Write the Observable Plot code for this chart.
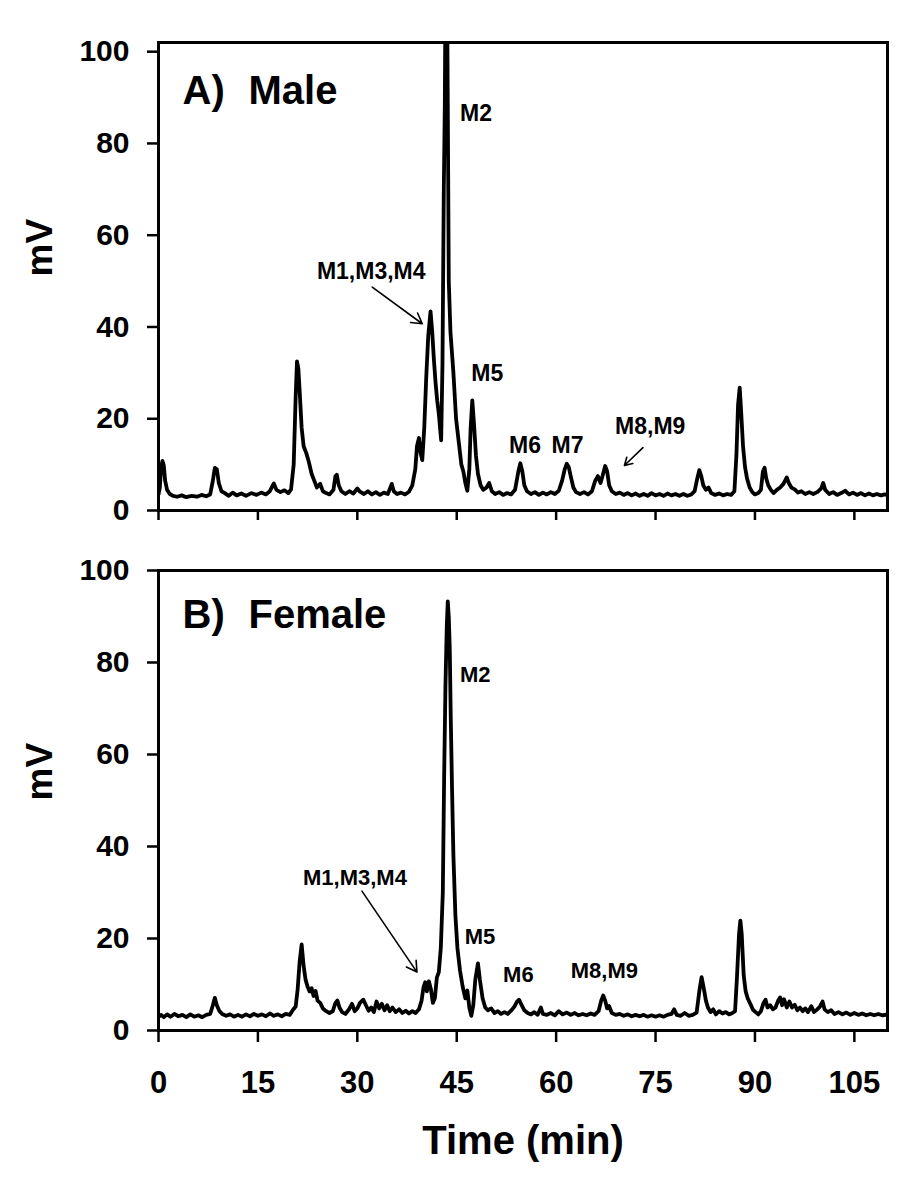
<!DOCTYPE html>
<html>
<head>
<meta charset="utf-8">
<script src="https://cdn.jsdelivr.net/npm/d3@7"></script>
<script src="https://cdn.jsdelivr.net/npm/@observablehq/plot@0.6"></script>
<style>
  html, body { margin: 0; padding: 0; background: #fff; }
  #chart { width: 918px; height: 1179px; position: relative; background: #fff; }
  #chart svg { display: block; }
</style>
</head>
<body>
<div id="chart"></div>
<script>
// ---------- DATA ----------
const xTicks = [0, 15, 30, 45, 60, 75, 90, 105];
const yTicks = [0, 20, 40, 60, 80, 100];
const panelLetters = ["A)", "B)"];
const panelNames = ["Male", "Female"];
const xTitle = "Time (min)";
const yTitle = "mV";

// Panel A: Male chromatogram (time in min, signal in mV)
const maleTime = [0,0.2,0.4,0.6,0.8,1.0,1.3,1.7,2.2,2.8,3.5,4.2,5.0,5.8,6.5,7.2,7.8,8.2,8.5,8.8,9.1,9.5,10.0,10.6,11.2,11.8,12.5,13.2,14.0,14.8,15.5,16.2,16.8,17.4,17.8,18.4,19.0,19.6,20.0,20.4,20.7,20.9,21.1,21.3,21.6,21.9,22.3,22.7,23.1,23.5,23.9,24.4,24.8,25.3,25.8,26.4,26.7,26.9,27.2,27.6,28.2,28.8,29.4,30.0,30.4,31.0,31.6,32.2,32.8,33.4,34.0,34.6,35.2,35.5,36.0,36.6,37.2,37.8,38.3,38.75,39.0,39.3,39.55,39.8,40.1,40.4,40.7,41.05,41.3,41.55,41.8,42.05,42.3,42.65,42.85,43.05,43.2,43.3,43.55,43.65,43.8,44.05,44.5,44.9,45.3,45.7,46.0,46.3,46.6,46.9,47.1,47.35,47.6,47.9,48.2,48.6,49.0,49.5,49.9,50.3,50.8,51.4,52.0,52.6,53.2,53.8,54.3,54.6,54.9,55.2,55.6,56.2,56.8,57.4,58.0,58.6,59.2,59.8,60.4,60.9,61.3,61.6,61.9,62.2,62.6,63.0,63.6,64.2,64.8,65.4,65.9,66.3,66.7,67.0,67.4,67.7,68.0,68.4,69.0,69.6,70.2,70.8,71.4,72.0,72.6,73.2,73.8,74.4,75.0,75.6,76.2,76.8,77.4,78.0,78.6,79.2,79.8,80.4,80.9,81.3,81.6,81.9,82.2,82.6,83.0,83.4,84.0,84.6,85.2,85.8,86.4,86.9,87.2,87.45,87.7,87.9,88.2,88.5,88.8,89.2,89.6,90.0,90.5,90.9,91.2,91.45,91.7,92.0,92.4,92.8,93.3,93.8,94.3,94.8,95.1,95.5,96.0,96.5,97.0,97.6,98.2,98.8,99.4,100.0,100.3,100.6,101.2,101.8,102.4,103.0,103.6,104.2,104.8,105.4,106.0,106.6,107.2,107.8,108.4,109.0,109.6,110];
const maleMV = [3.5,5,9.5,10.8,9.8,6.5,4.5,3.6,3.2,3.0,3.3,2.9,3.2,3.0,3.4,3.1,3.5,6.5,9.3,9.0,6.0,4.2,3.8,3.2,3.9,3.3,3.7,3.2,3.8,3.4,3.9,3.5,4.2,5.9,4.5,4.0,4.4,3.8,4.6,10,25,32.5,31,26,18,14,12.5,10.5,8,6.5,5,5.8,4.2,3.8,3.5,4.5,7.5,7.8,5.5,4.2,3.6,4.2,3.7,4.8,4.1,3.6,4.2,3.5,4.0,3.4,3.9,3.6,5.8,4.2,3.6,3.9,3.5,4.1,5.5,9,14,15.8,12.5,11,18,29,38,43.4,39,33,28,24,21,15.3,32,70,88,112,112,88,50,39,30,20,15,10,8.5,6,4.3,9,18,24,19,12,8,5.5,4.5,5.0,6.0,4.2,3.6,4.0,3.4,3.8,3.5,4.5,8.5,10.3,8.5,5.5,4.2,3.6,4.0,3.4,3.9,3.5,4.0,3.6,4.3,6.5,9.0,10.2,9.5,7.5,5.0,4.0,3.6,4.0,3.5,4.2,6.5,7.5,6.0,7.5,9.7,8.5,5.5,4.2,3.6,3.9,3.4,3.8,3.3,3.7,3.2,3.6,3.2,3.8,3.3,3.6,3.2,3.7,3.3,3.6,3.2,3.6,3.2,3.5,4.2,7.0,8.8,7.5,5.5,4.5,5.0,3.8,3.4,3.7,3.3,3.6,3.4,4.2,12,23,26.8,22,14,9.5,7.0,5.0,4.0,3.5,3.8,4.5,8.5,9.3,7.0,5.5,4.5,3.8,4.5,5.0,5.8,7.2,6.0,5.0,4.6,3.9,4.2,3.6,4.0,3.6,4.0,4.8,6.0,4.5,3.6,4.0,3.4,3.8,4.3,3.5,3.9,3.4,3.8,3.3,3.7,3.3,3.6,3.3,3.5,3.4];

// Panel B: Female chromatogram
const femaleTime = [0,0.4,0.8,1.3,1.8,2.4,3.0,3.6,4.2,4.8,5.4,6.0,6.6,7.2,7.8,8.2,8.5,8.8,9.2,9.6,10.2,10.8,11.4,12.0,12.6,13.2,13.8,14.4,15.0,15.6,16.2,16.8,17.4,18.0,18.6,19.2,19.8,20.3,20.7,21.0,21.3,21.6,21.9,22.2,22.5,22.8,23.1,23.4,23.7,24.0,24.4,24.8,25.3,25.8,26.3,26.7,27.0,27.3,27.7,28.2,28.7,29.2,29.6,30.0,30.4,30.9,31.3,31.7,32.1,32.5,32.9,33.3,33.7,34.1,34.5,34.9,35.3,35.8,36.3,36.8,37.3,37.8,38.3,38.8,39.3,39.7,40.0,40.25,40.5,40.8,41.1,41.4,41.7,42.0,42.3,42.6,42.9,43.1,43.3,43.5,43.65,43.8,43.95,44.1,44.3,44.5,44.8,45.1,45.5,45.9,46.3,46.6,46.9,47.2,47.5,47.8,48.2,48.5,48.9,49.3,49.7,50.2,50.7,51.2,51.7,52.2,52.7,53.2,53.7,54.1,54.4,54.8,55.2,55.7,56.2,56.7,57.2,57.7,58.0,58.6,59.2,59.8,60.4,61.0,61.6,62.2,62.8,63.4,64.0,64.6,65.2,65.8,66.4,66.8,67.1,67.4,67.7,68.0,68.4,69.0,69.6,70.2,70.8,71.4,72.0,72.6,73.2,73.8,74.4,75.0,75.6,76.2,76.8,77.4,77.8,78.2,78.8,79.4,80.0,80.6,81.2,81.6,81.95,82.3,82.6,82.9,83.3,83.7,84.1,84.6,85.1,85.6,86.1,86.6,87.0,87.3,87.6,87.8,88.0,88.3,88.6,88.9,89.3,89.7,90.1,90.5,90.9,91.3,91.6,91.9,92.3,92.7,93.1,93.5,93.8,94.1,94.4,94.8,95.2,95.6,96.0,96.4,96.8,97.2,97.6,98.0,98.5,98.9,99.4,99.8,100.2,100.5,101.0,101.5,102.0,102.6,103.2,103.8,104.4,105.0,105.6,106.2,106.8,107.4,108.0,108.6,109.2,110];
const femaleMV = [3.0,3.4,2.9,3.5,3.0,3.6,3.1,3.4,2.9,3.5,3.0,3.3,2.9,3.4,3.6,5.5,7.1,5.5,4.2,3.6,3.2,3.5,3.0,3.4,3.0,3.5,3.1,3.6,3.2,3.5,3.1,3.7,3.2,3.5,3.1,3.6,3.4,4.5,5.2,9,15,18.7,14,11,9.5,8.5,9.2,7.5,8.6,6.5,6.0,4.8,4.2,3.8,4.2,6.0,6.5,5.0,4.0,3.6,4.5,5.8,4.2,4.8,6.0,6.7,5.5,4.3,5.0,4.0,6.3,4.8,5.8,4.4,5.5,4.2,5.0,4.0,4.6,3.8,4.3,3.7,4.2,3.8,4.6,6.5,9.5,10.5,8.5,10.7,9.0,6.0,7.0,11.5,12.7,18,30,55,75,88,93.3,90,83,68,52,38,25,18,13,9.5,7,8.7,5,3.2,5.5,11,14.6,11,7,5.0,4.4,4.8,3.8,4.2,3.6,4.0,3.6,4.3,5.2,6.3,6.7,5.5,4.4,3.8,3.5,4.0,3.4,5.0,3.6,3.4,3.8,3.3,4.2,3.5,3.9,3.4,3.8,3.3,3.6,3.3,3.7,3.4,4.2,6.5,7.6,6.5,4.8,5.3,3.8,3.4,3.6,3.2,3.5,3.1,3.4,3.1,3.4,3.0,3.3,3.0,3.3,3.0,3.4,3.6,4.6,3.4,3.2,3.8,3.2,3.4,3.9,8.5,11.6,9.0,6.5,5.0,4.0,4.6,3.5,4.2,3.7,4.0,3.5,3.8,4.2,12,21,23.9,21,12,8.5,7,5.8,4.5,4.0,3.5,4.2,6.0,6.7,5.0,5.5,4.6,5.0,6.5,7.2,5.5,6.8,5.0,6.3,5.0,5.6,4.4,5.0,4.2,4.8,4.0,5.3,4.0,4.6,5.2,6.3,4.6,4.0,4.4,3.6,4.0,3.5,3.9,3.4,3.8,3.4,3.7,3.3,3.6,3.3,3.6,3.3,3.5];

// Peak annotations (label, text left time, text baseline mV)
const maleLabels = ["M2", "M1,M3,M4", "M5", "M6", "M7", "M8,M9"];
const maleLabelTime = [45.5, 23.9, 47.2, 52.9, 59.3, 68.9];
const maleLabelMV = [84.9, 50.4, 28.3, 12.5, 12.5, 16.6];
// arrows: from (t1, v1) to (t2, v2)
const maleArrowT1 = [32.25, 73.1];
const maleArrowV1 = [48.7, 13.7];
const maleArrowT2 = [39.8, 70.3];
const maleArrowV2 = [40.7, 9.8];

const femaleLabels = ["M2", "M1,M3,M4", "M5", "M6", "M8,M9"];
const femaleLabelTime = [45.5, 21.8, 46.2, 52.0, 62.2];
const femaleLabelMV = [75.7, 31.7, 18.7, 10.5, 11.5];
const femaleArrowT1 = [30.7];
const femaleArrowV1 = [30.3];
const femaleArrowT2 = [39.0];
const femaleArrowV2 = [12.7];

// ---------- DRAWING ----------
const FONT = "'Liberation Sans', Arial, Helvetica, sans-serif";
const W = 918;

function panel(opts) {
  const {time, mv, yMax, height, marginTop, marginBottom, letter, name, letterDy,
         labels, labelT, labelV, labelSize, aT1, aV1, aT2, aV2, bottom} = opts;
  const rows = time.map((t, i) => ({t, v: mv[i]}));
  const ann = labels.map((s, i) => ({s, t: labelT[i], v: labelV[i]}));
  const arrows = aT1.map((t, i) => ({x1: t, y1: aV1[i], x2: aT2[i], y2: aV2[i]}));
  const marks = [
    Plot.line(rows, {x: "t", y: "v", stroke: "black", strokeWidth: 3.8, clip: true, strokeLinejoin: "round"}),
    Plot.axisY({ticks: yTicks, tickSize: 11, tickPadding: 18, fontSize: 30, fontWeight: "bold", strokeWidth: 2.5, label: null}),
    bottom
      ? Plot.axisX({ticks: xTicks, tickSize: 12, tickPadding: 28, fontSize: 31, fontWeight: "bold", strokeWidth: 2.5, label: null})
      : Plot.axisX({ticks: xTicks, tickSize: 10, tickFormat: () => "", strokeWidth: 2.5, label: null}),
    Plot.frame({stroke: "black", strokeWidth: 3}),
    Plot.text([letter], {frameAnchor: "top-left", dx: 24, dy: letterDy, textAnchor: "start", lineAnchor: "bottom", fontSize: 40, fontWeight: "bold", fill: "black"}),
    Plot.text([name], {frameAnchor: "top-left", dx: 90, dy: letterDy, textAnchor: "start", lineAnchor: "bottom", fontSize: 40, fontWeight: "bold", fill: "black"}),
    Plot.text([yTitle], {frameAnchor: "left", dx: -118, rotate: -90, fontSize: 37, fontWeight: "bold", fill: "black"}),
    Plot.text(ann, {x: "t", y: "v", text: "s", textAnchor: "start", lineAnchor: "bottom", fontSize: labelSize, fontWeight: "bold", fill: "black"}),
    Plot.arrow(arrows, {x1: "x1", y1: "y1", x2: "x2", y2: "y2", stroke: "black", strokeWidth: 1.6, headLength: 11, bend: 0})
  ];
  if (bottom) {
    marks.push(Plot.text([xTitle], {frameAnchor: "bottom", dy: 123, lineAnchor: "bottom", fontSize: 40, fontWeight: "bold", fill: "black"}));
  }
  return Plot.plot({
    width: W,
    height,
    marginTop,
    marginBottom,
    marginLeft: 158,
    marginRight: 31,
    style: {fontFamily: FONT, fontWeight: "bold", color: "black", background: "white", overflow: "visible"},
    x: {domain: [0, 110]},
    y: {domain: [0, yMax]},
    marks
  });
}

const panelA = panel({
  time: maleTime, mv: maleMV, yMax: 102, height: 540, marginTop: 42, marginBottom: 30,
  letter: panelLetters[0], name: panelNames[0], letterDy: 61,
  labels: maleLabels, labelT: maleLabelTime, labelV: maleLabelMV, labelSize: 23,
  aT1: maleArrowT1, aV1: maleArrowV1, aT2: maleArrowT2, aV2: maleArrowV2, bottom: false
});
const panelB = panel({
  time: femaleTime, mv: femaleMV, yMax: 100, height: 639, marginTop: 30, marginBottom: 149,
  letter: panelLetters[1], name: panelNames[1], letterDy: 57,
  labels: femaleLabels, labelT: femaleLabelTime, labelV: femaleLabelMV, labelSize: 22,
  aT1: femaleArrowT1, aV1: femaleArrowV1, aT2: femaleArrowT2, aV2: femaleArrowV2, bottom: true
});
const chartEl = document.getElementById("chart");
chartEl.appendChild(panelA);
chartEl.appendChild(panelB);
</script>
</body>
</html>
